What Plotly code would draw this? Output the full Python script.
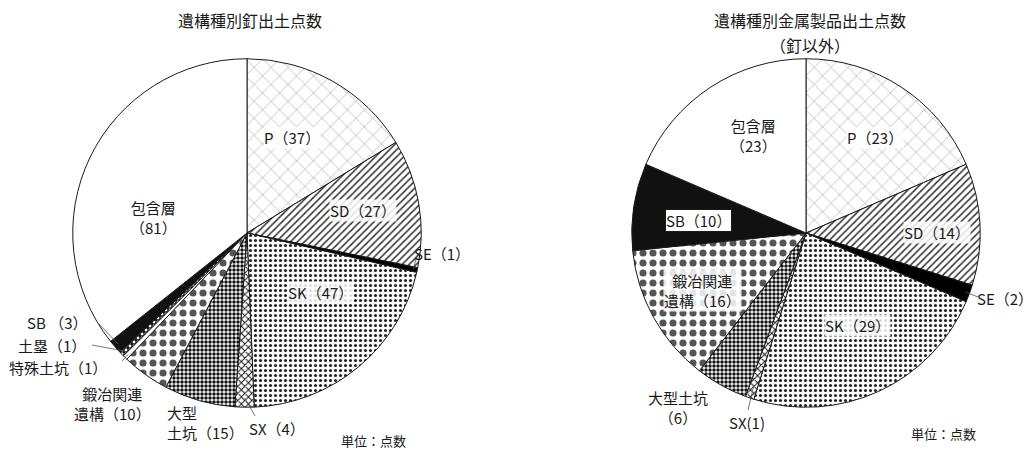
import math
import plotly.graph_objects as go

# ---------------- data ----------------
left_title = "遺構種別釘出土点数"
left_labels = ["P", "SD", "SE", "SK", "SX", "大型土坑", "鍛冶関連遺構", "特殊土坑", "土塁", "SB", "包含層"]
left_values = [37, 27, 1, 47, 4, 15, 10, 1, 1, 3, 81]

right_title = "遺構種別金属製品出土点数"
right_subtitle = "（釘以外）"
right_labels = ["P", "SD", "SE", "SK", "SX", "大型土坑", "鍛冶関連遺構", "SB", "包含層"]
right_values = [23, 14, 2, 29, 1, 6, 16, 10, 23]

unit_text = "単位：点数"

# ---------------- styles ----------------
OFF = 8                      # page body margin
FW, FH = 1034 - OFF, 451 - OFF
FONT = "Noto Sans CJK JP"
INK = "#1a1a1a"
HALO = "rgba(255,255,255,0.85)"

styles = {
    "P": dict(shape="x", fg="#8a8a8a", bg="white", size=12, sol=0.08),
    "SD": dict(shape="/", fg="#333333", bg="white", size=5, sol=0.3),
    "SE": dict(shape="", fg="black", bg="black", size=5, sol=0.3),
    "SK": dict(shape=".", fg="#222222", bg="white", size=5, sol=0.3),
    "SX": dict(shape="x", fg="#111111", bg="white", size=5, sol=0.35),
    "大型土坑": dict(shape=".", fg="#111111", bg="white", size=4, sol=0.6),
    "鍛冶関連遺構": dict(shape=".", fg="#555555", bg="white", size=10, sol=0.4),
    "特殊土坑": dict(shape="", fg="white", bg="white", size=5, sol=0.3),
    "土塁": dict(shape=".", fg="white", bg="#111111", size=4, sol=0.4),
    "SB": dict(shape="", fg="#111111", bg="#111111", size=5, sol=0.3),
    "包含層": dict(shape="", fg="white", bg="white", size=5, sol=0.3),
}


def pattern_for(labels):
    return dict(
        shape=[styles[l]["shape"] for l in labels],
        fgcolor=[styles[l]["fg"] for l in labels],
        bgcolor=[styles[l]["bg"] for l in labels],
        size=[styles[l]["size"] for l in labels],
        solidity=[styles[l]["sol"] for l in labels],
        fillmode="replace",
    )


def colors_for(labels):
    return [styles[l]["bg"] for l in labels]


# pie geometry (screen pixels)
R = 170
RD = R * 1.025
L_CX, L_CY = 247, 233
R_CX, R_CY = 806, 233


def px(x, y):
    return (x - OFF) / FW, 1 - (y - OFF) / FH


def dom(cx, cy):
    x0, y1 = px(cx - RD, cy - RD)
    x1, y0 = px(cx + RD, cy + RD)
    return dict(x=[x0, x1], y=[y0, y1])


def edge(cx, cy, values, idx, k=1.0):
    tot = sum(values)
    th = (sum(values[:idx]) + 0.5 * values[idx]) / tot * 2 * math.pi
    return cx + k * R * math.sin(th), cy - k * R * math.cos(th)


fig = go.Figure()
for labels, values, cx, cy in [(left_labels, left_values, L_CX, L_CY),
                               (right_labels, right_values, R_CX, R_CY)]:
    fig.add_trace(go.Pie(
        labels=labels, values=values, sort=False, direction="clockwise",
        rotation=0, textinfo="none", hoverinfo="label+value",
        domain=dom(cx, cy), showlegend=False,
        marker=dict(colors=colors_for(labels), pattern=pattern_for(labels),
                    line=dict(color=INK, width=1)),
    ))

ann = []


def text(x, y, s, size=15, xanchor="center", **kw):
    X, Y = px(x, y)
    kw.setdefault("borderpad", 0)
    ann.append(dict(x=X, y=Y, xref="paper", yref="paper", text=s, showarrow=False,
                    xanchor=xanchor, yanchor="middle",
                    font=dict(family=FONT, size=size, color=INK), **kw))


def v(values, labels, name):
    return values[labels.index(name)]


# titles
text(250, 20, left_title, size=16)
text(810, 20, right_title, size=16)
text(810, 45, right_subtitle, size=16)

# left labels
lv, ll = left_values, left_labels
text(292, 137, f"P（{v(lv, ll, 'P')}）", bgcolor=HALO)
text(363, 210, f"SD（{v(lv, ll, 'SD')}）", bgcolor=HALO)
text(442, 253, f"SE（{v(lv, ll, 'SE')}）")
text(320, 292, f"SK（{v(lv, ll, 'SK')}）", bgcolor=HALO)
text(153, 217, f"包含層<br>（{v(lv, ll, '包含層')}）")
text(57, 322, f"SB （{v(lv, ll, 'SB')}）")
text(52, 345, f"土塁（{v(lv, ll, '土塁')}）")
text(58, 367, f"特殊土坑（{v(lv, ll, '特殊土坑')}）")
text(112, 403, f"鍛冶関連<br>遺構（{v(lv, ll, '鍛冶関連遺構')}）")
text(166, 422, f"大型<br>土坑（{v(lv, ll, '大型土坑')}）", xanchor="left", align="left")
text(277, 428, f"SX（{v(lv, ll, 'SX')}）")
text(373, 440, unit_text, size=13)

# right labels
rv, rl = right_values, right_labels
text(753, 136, f"包含層<br>（{v(rv, rl, '包含層')}）")
text(875, 137, f"P（{v(rv, rl, 'P')}）", bgcolor=HALO)
text(937, 232, f"SD（{v(rv, rl, 'SD')}）", bgcolor=HALO)
text(698, 220, f"SB（{v(rv, rl, 'SB')}）", bgcolor="white", bordercolor=INK, borderwidth=1)
text(702, 290, f"鍛冶関連<br>遺構（{v(rv, rl, '鍛冶関連遺構')}）", bgcolor=HALO)
text(857, 325, f"SK（{v(rv, rl, 'SK')}）", bgcolor=HALO)
text(1005, 298, f"SE（{v(rv, rl, 'SE')}）")
text(678, 407, f"大型土坑<br>（{v(rv, rl, '大型土坑')}）")
text(747, 422, f"SX({v(rv, rl, 'SX')})")
text(943, 433, unit_text, size=13)

# leader lines: from slice edge (computed from data) to label
shapes = []


def leader(p0, p1):
    x0, y0 = px(*p0)
    x1, y1 = px(*p1)
    shapes.append(dict(type="line", xref="paper", yref="paper", x0=x0, y0=y0, x1=x1, y1=y1,
                       line=dict(color="#555555", width=0.8)))


leader(edge(L_CX, L_CY, lv, ll.index("SE")), (418, 253))
leader(edge(L_CX, L_CY, lv, ll.index("SX"), 0.97), (255, 416))
leader(edge(L_CX, L_CY, lv, ll.index("SB")), (97, 322))
leader(edge(L_CX, L_CY, lv, ll.index("土塁")), (92, 345))
leader(edge(L_CX, L_CY, lv, ll.index("特殊土坑")), (122, 361))
leader(edge(R_CX, R_CY, rv, rl.index("SE")), (978, 297))
leader(edge(R_CX, R_CY, rv, rl.index("SX"), 0.95), (748, 410))

fig.update_layout(
    width=FW, height=FH, margin=dict(l=0, r=0, t=0, b=0),
    paper_bgcolor="white", plot_bgcolor="white",
    annotations=ann, shapes=shapes,
    font=dict(family=FONT, color=INK),
)

fig.write_html("out.html")
